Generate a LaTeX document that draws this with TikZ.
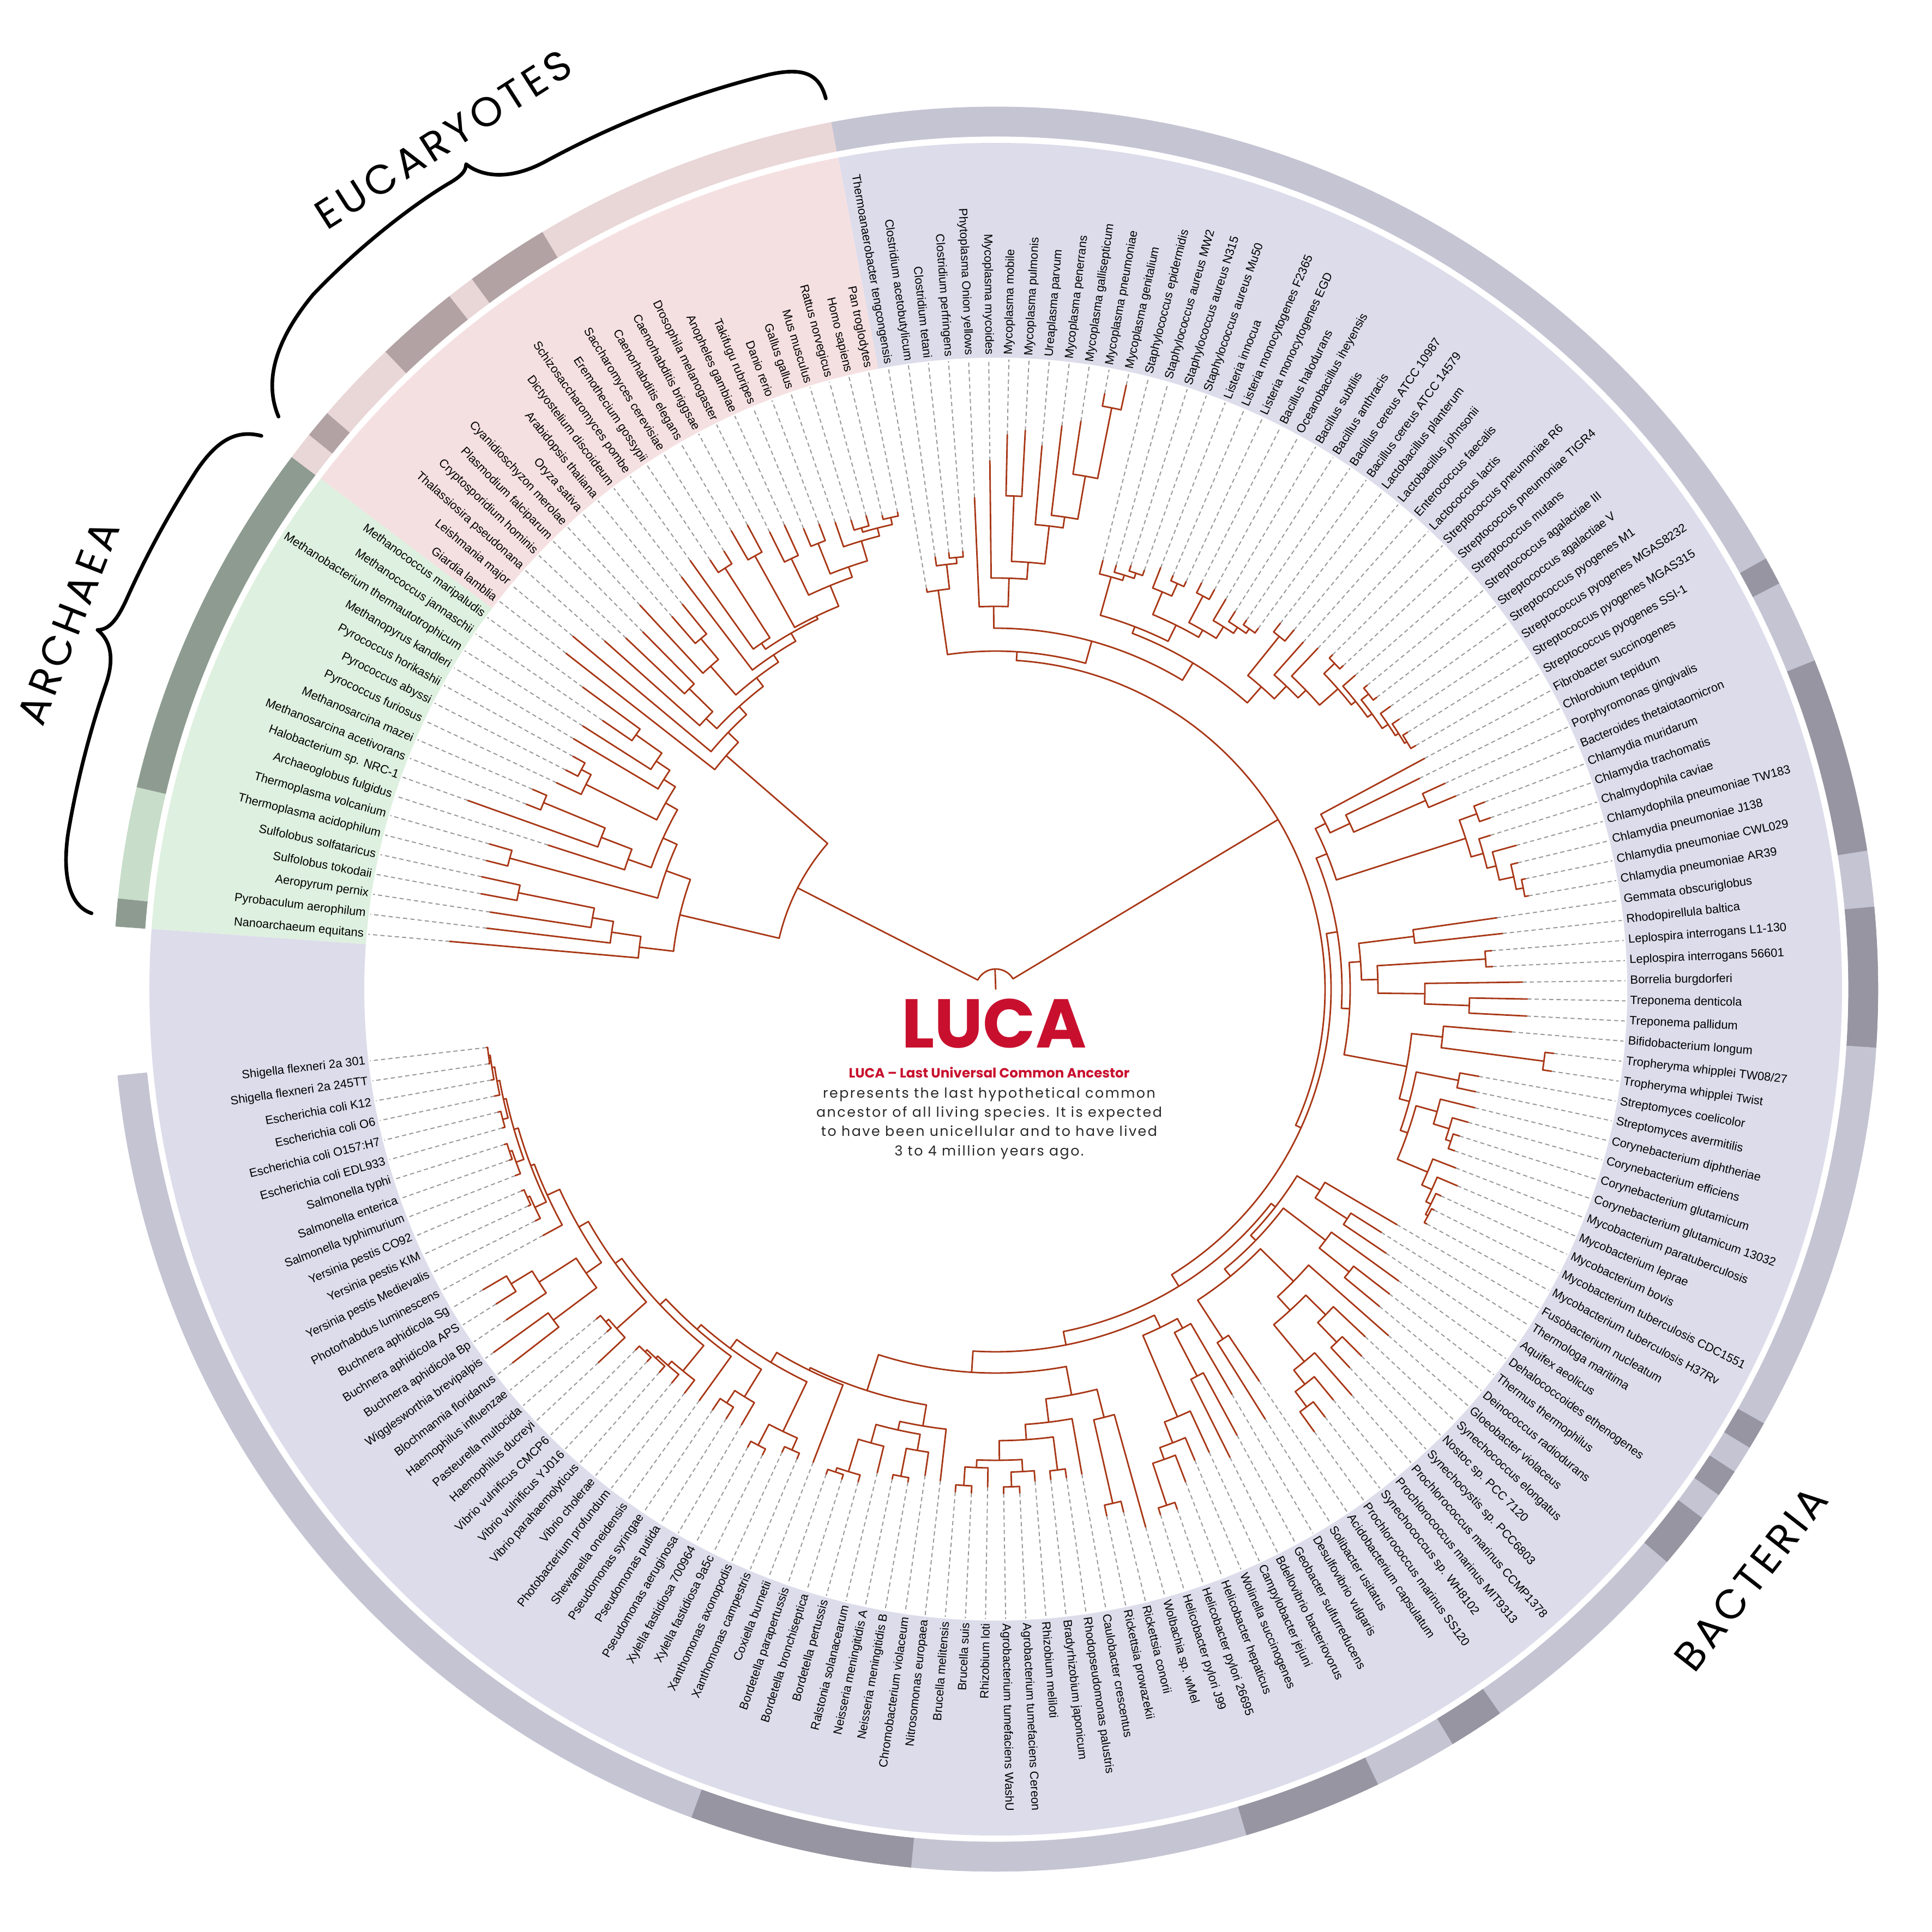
\documentclass[tikz,border=0pt]{standalone}
\usepackage{fontspec}
\setmainfont{Liberation Sans}
\newfontfamily\popfont{Poppins}
\newfontfamily\popdesc{Poppins}[LetterSpace=10]
\newfontfamily\popspaced{Poppins}[LetterSpace=10]
\definecolor{cBrn}{RGB}{168,55,22}
\definecolor{cDsh}{RGB}{150,150,150}
\definecolor{bgA}{RGB}{222,240,223}
\definecolor{bgE}{RGB}{245,224,225}
\definecolor{bgB}{RGB}{221,220,235}
\definecolor{rAl}{RGB}{200,221,202}
\definecolor{rAd}{RGB}{141,155,144}
\definecolor{rEl}{RGB}{233,214,215}
\definecolor{rEd}{RGB}{178,162,163}
\definecolor{rBl}{RGB}{197,196,211}
\definecolor{rBd}{RGB}{150,149,161}
\definecolor{lucared}{RGB}{200,16,46}
\definecolor{descgray}{RGB}{40,40,40}
\tikzset{
  br/.style={cBrn, line width=0.8pt, line cap=round},
  dline/.style={cDsh, line width=0.55pt, dash pattern=on 2.2pt off 1.6pt},
  lab/.style={font=\fontsize{6.23}{7}\selectfont, inner sep=0pt, text=black},
  biglab/.style={font=\popspaced\fontsize{21.5}{24}\selectfont, inner sep=0pt, text=black},
  desc/.style={font=\popdesc\fontsize{7.2}{8}\selectfont, text=descgray, inner sep=0pt, anchor=base},
  bracestyle/.style={black, line width=1.9pt, line cap=round, line join=round},
}
\newcommand\TLeaf[3]{%
  \pgfmathsetmacro\la{175-1.834*#1}%
  \expandafter\xdef\csname tAxL#1\endcsname{\la}%
  \coordinate (L#1) at (\la:#2/100);%
  \draw[dline] (L#1) -- (\la:11.55);%
  \ifdim\la pt>90pt \pgfmathsetmacro\lr{\la+180}\def\lanc{east}%
  \else\ifdim\la pt<-90pt \pgfmathsetmacro\lr{\la+180}\def\lanc{east}%
  \else \let\lr\la \def\lanc{west}\fi\fi
  \node[lab,rotate=\lr,anchor=\lanc] (N#1) at (\la:11.63) {#3};%
}
\newcommand\TClade[3]{%
  \gdef\tcmin{1000}\gdef\tcmax{-1000}%
  \foreach \c in {#3}{%
    \edef\ca{\csname tAx\c\endcsname}%
    \pgfmathparse{min(\tcmin,\ca)}\xdef\tcmin{\pgfmathresult}%
    \pgfmathparse{max(\tcmax,\ca)}\xdef\tcmax{\pgfmathresult}%
    \draw[br] (\ca:#2/100) -- (\c);%
  }%
  \pgfmathsetmacro\tcmid{(\tcmin+\tcmax)/2}%
  \expandafter\xdef\csname tAx#1\endcsname{\tcmid}%
  \draw[br] (\tcmin:#2/100) arc[start angle=\tcmin, end angle=\tcmax, radius=#2/100];%
  \coordinate (#1) at (\tcmid:#2/100);%
}
\newcommand\RSeg[3]{%
  \pgfmathsetmacro\ra{175.917-1.834*#1}%
  \pgfmathsetmacro\rb{175.917-1.834*(#2+1)}%
  \filldraw[#3, line width=0.2pt] (\ra:15.64) arc[start angle=\ra,end angle=\rb,radius=15.64] -- (\rb:16.18) arc[start angle=\rb,end angle=\ra,radius=16.18] -- cycle;%
}
\begin{document}
\begin{tikzpicture}[x=1cm,y=1cm]
\useasboundingbox (-18.26,-17.29) rectangle (17.17,18.14);
\fill[white] (-18.26,-17.29) rectangle (17.17,18.14);
% background sectors
\fill[bgB] (100.725:11.58) arc[start angle=100.725,end angle=-184.083,radius=11.58] -- (-184.083:15.52) arc[start angle=-184.083,end angle=100.725,radius=15.52] -- cycle;
\fill[bgE] (100.725:11.58) arc[start angle=100.725,end angle=142.905,radius=11.58] -- (142.905:15.52) arc[start angle=142.905,end angle=100.725,radius=15.52] -- cycle;
\fill[bgA] (142.905:11.58) arc[start angle=142.905,end angle=175.917,radius=11.58] -- (175.917:15.52) arc[start angle=175.917,end angle=142.905,radius=15.52] -- cycle;
% outer ring
\RSeg{0}{0}{rAd}\RSeg{1}{4}{rAl}\RSeg{5}{17}{rAd}
\RSeg{18}{18}{rEl}\RSeg{19}{19}{rEd}\RSeg{20}{22}{rEl}\RSeg{23}{25}{rEd}\RSeg{26}{26}{rEl}\RSeg{27}{29}{rEd}\RSeg{30}{40}{rEl}
\RSeg{41}{79}{rBl}\RSeg{80}{80}{rBd}\RSeg{81}{83}{rBl}\RSeg{84}{90}{rBd}\RSeg{91}{92}{rBl}\RSeg{93}{97}{rBd}\RSeg{98}{111}{rBl}
\RSeg{112}{112}{rBd}\RSeg{113}{113}{rBl}\RSeg{114}{114}{rBd}\RSeg{115}{115}{rBl}\RSeg{116}{117}{rBd}\RSeg{118}{125}{rBl}
\RSeg{126}{127}{rBd}\RSeg{128}{130}{rBl}\RSeg{131}{135}{rBd}\RSeg{136}{147}{rBl}\RSeg{148}{155}{rBd}\RSeg{156}{190}{rBl}
% leaves: archaea
\TLeaf{0}{1005}{Nanoarchaeum equitans}
\TLeaf{1}{940}{Pyrobaculum aerophilum}
\TLeaf{2}{938}{Aeropyrum pernix}
\TLeaf{3}{960}{Sulfolobus tokodaii}
\TLeaf{4}{965}{Sulfolobus solfataricus}
\TLeaf{5}{963}{Thermoplasma acidophilum}
\TLeaf{6}{966}{Thermoplasma volcanium}
\TLeaf{7}{862}{Archaeoglobus fulgidus}
\TLeaf{8}{1028}{Halobacterium sp. NRC-1}
\TLeaf{9}{925}{Methanosarcina acetivorans}
\TLeaf{10}{925}{Methanosarcina mazei}
\TLeaf{11}{890}{Pyrococcus furiosus}
\TLeaf{12}{885}{Pyrococcus abyssi}
\TLeaf{13}{885}{Pyrococcus horikashii}
\TLeaf{14}{900}{Methanopyrus kandleri}
\TLeaf{15}{898}{Methanobacterium thermautotrophicum}
\TLeaf{16}{873}{Methanococcus jannaschii}
\TLeaf{17}{938}{Methanococcus maripaludis}
% eukaryotes
\TLeaf{18}{1000}{Giardia lamblia}
\TLeaf{19}{1010}{Leishmania major}
\TLeaf{20}{960}{Thalassiosira pseudonana}
\TLeaf{21}{935}{Cryptosporidium hominis}
\TLeaf{22}{921}{Plasmodium falciparum}
\TLeaf{23}{960}{Cyanidioschyzon merolae}
\TLeaf{24}{905}{Oryza sativa}
\TLeaf{25}{910}{Arabidopsis thaliana}
\TLeaf{26}{950}{Dictyostelium discoideum}
\TLeaf{27}{965}{Schizosaccharomyces pombe}
\TLeaf{28}{945}{Eremothecium gossypii}
\TLeaf{29}{945}{Saccharomyces cerevisiae}
\TLeaf{30}{970}{Caenorhabditis elegans}
\TLeaf{31}{965}{Caenorhabditis briggsae}
\TLeaf{32}{935}{Drosophila melanogaster}
\TLeaf{33}{935}{Anopheles gambiae}
\TLeaf{34}{915}{Takifugu rubripes}
\TLeaf{35}{912}{Danio rerio}
\TLeaf{36}{905}{Gallus gallus}
\TLeaf{37}{900}{Mus musculus}
\TLeaf{38}{900}{Rattus norvegicus}
\TLeaf{39}{893}{Homo sapiens}
\TLeaf{40}{893}{Pan troglodytes}
% bacteria
\TLeaf{41}{745}{Thermoanaerobacter tengcongensis}
\TLeaf{42}{800}{Clostridium acetobutylicum}
\TLeaf{43}{805}{Clostridium tetani}
\TLeaf{44}{805}{Clostridium perfringens}
\TLeaf{45}{902}{Phytoplasma Onion yellows}
\TLeaf{46}{969}{Mycoplasma mycoides}
\TLeaf{47}{1017}{Mycoplasma mobile}
\TLeaf{48}{1026}{Mycoplasma pulmonis}
\TLeaf{49}{1000}{Ureaplasma parvum}
\TLeaf{50}{1040}{Mycoplasma penerrans}
\TLeaf{51}{1053}{Mycoplasma gallisepticum}
\TLeaf{52}{1110}{Mycoplasma pneumoniae}
\TLeaf{53}{1133}{Mycoplasma genitalium}
\TLeaf{54}{810}{Staphylococcus epidermidis}
\TLeaf{55}{808}{Staphylococcus aureus MW2}
\TLeaf{56}{815}{Staphylococcus aureus N315}
\TLeaf{57}{815}{Staphylococcus aureus Mu50}
\TLeaf{58}{830}{Listeria innocua}
\TLeaf{59}{825}{Listeria monocytogenes F2365}
\TLeaf{60}{825}{Listeria monocytogenes EGD}
\TLeaf{61}{835}{Bacillus halodurans}
\TLeaf{62}{835}{Oceanobacillus iheyensis}
\TLeaf{63}{830}{Bacillus subtilis}
\TLeaf{64}{820}{Bacillus anthracis}
\TLeaf{65}{818}{Bacillus cereus ATCC 10987}
\TLeaf{66}{818}{Bacillus cereus ATCC 14579}
\TLeaf{67}{850}{Lactobacillus planterum}
\TLeaf{68}{856}{Lactobacillus johnsonii}
\TLeaf{69}{850}{Enterococcus faecalis}
\TLeaf{70}{860}{Lactococcus lactis}
\TLeaf{71}{870}{Streptococcus pneumoniae R6}
\TLeaf{72}{870}{Streptococcus pneumoniae TIGR4}
\TLeaf{73}{875}{Streptococcus mutans}
\TLeaf{74}{880}{Streptococcus agalactiae III}
\TLeaf{75}{880}{Streptococcus agalactiae V}
\TLeaf{76}{890}{Streptococcus pyogenes M1}
\TLeaf{77}{890}{Streptococcus pyogenes MGAS8232}
\TLeaf{78}{890}{Streptococcus pyogenes MGAS315}
\TLeaf{79}{890}{Streptococcus pyogenes SSI-1}
\TLeaf{80}{893}{Fibrobacter succinogenes}
\TLeaf{81}{868}{Chlorobium tepidum}
\TLeaf{82}{906}{Porphyromonas gingivalis}
\TLeaf{83}{915}{Bacteroides thetaiotaomicron}
\TLeaf{84}{960}{Chlamydia muridarum}
\TLeaf{85}{960}{Chlamydia trachomatis}
\TLeaf{86}{950}{Chalmydophila caviae}
\TLeaf{87}{990}{Chlamydophila pneumoniae TW183}
\TLeaf{88}{985}{Chlamydia pneumoniae J138}
\TLeaf{89}{992}{Chlamydia pneumoniae CWL029}
\TLeaf{90}{992}{Chlamydia pneumoniae AR39}
\TLeaf{91}{928}{Gemmata obscuriglobus}
\TLeaf{92}{935}{Rhodopirellula baltica}
\TLeaf{93}{912}{Leplospira interrogans L1-130}
\TLeaf{94}{912}{Leplospira interrogans 56601}
\TLeaf{95}{966}{Borrelia burgdorferi}
\TLeaf{96}{975}{Treponema denticola}
\TLeaf{97}{975}{Treponema pallidum}
\TLeaf{98}{949}{Bifidobacterium longum}
\TLeaf{99}{1030}{Tropheryma whipplei TW08/27}
\TLeaf{100}{1030}{Tropheryma whipplei Twist}
\TLeaf{101}{900}{Streptomyces coelicolor}
\TLeaf{102}{900}{Streptomyces avermitilis}
\TLeaf{103}{905}{Corynebacterium diphtheriae}
\TLeaf{104}{900}{Corynebacterium efficiens}
\TLeaf{105}{892}{Corynebacterium glutamicum}
\TLeaf{106}{892}{Corynebacterium glutamicum 13032}
\TLeaf{107}{905}{Mycobacterium paratuberculosis}
\TLeaf{108}{920}{Mycobacterium leprae}
\TLeaf{109}{900}{Mycobacterium bovis}
\TLeaf{110}{900}{Mycobacterium tuberculosis CDC1551}
\TLeaf{111}{900}{Mycobacterium tuberculosis H37Rv}
\TLeaf{112}{853}{Fusobacterium nucleatum}
\TLeaf{113}{836}{Thermologa maritima}
\TLeaf{114}{864}{Aquifex aeolicus}
\TLeaf{115}{912}{Dehalococcoides ethenogenes}
\TLeaf{116}{913}{Thermus thermophilus}
\TLeaf{117}{913}{Deinococcus radiodurans}
\TLeaf{118}{960}{Gloeobacter violaceus}
\TLeaf{119}{930}{Synechococcus elongatus}
\TLeaf{120}{950}{Nostoc sp. PCC 7120}
\TLeaf{121}{950}{Synechocystis sp. PCC6803}
\TLeaf{122}{990}{Prochlorococcus marinus CCMP1378}
\TLeaf{123}{975}{Prochlorococcus marinus MIT9313}
\TLeaf{124}{990}{Synechococcus sp. WH8102}
\TLeaf{125}{1000}{Prochlorococcus marinus SS120}
\TLeaf{126}{866}{Acidobacterium capsulatum}
\TLeaf{127}{930}{Solibacter usitatus}
\TLeaf{128}{860}{Desulfovibrio vulgaris}
\TLeaf{129}{930}{Geobacter sulfurreducens}
\TLeaf{130}{960}{Bdellovibrio bacteriovorus}
\TLeaf{131}{935}{Campylobacter jejuni}
\TLeaf{132}{938}{Wolinella succinogenes}
\TLeaf{133}{968}{Helicobacter hepaticus}
\TLeaf{134}{1010}{Helicobacter pylori 26695}
\TLeaf{135}{1010}{Helicobacter pylori J99}
\TLeaf{136}{1024}{Wolbachia sp. wMel}
\TLeaf{137}{987}{Rickettsia conorii}
\TLeaf{138}{987}{Rickettsia prowazekii}
\TLeaf{139}{903}{Caulobacter crescentus}
\TLeaf{140}{905}{Rhodopseudomonas palustris}
\TLeaf{141}{905}{Bradyrhizobium japonicum}
\TLeaf{142}{905}{Rhizobium meliloti}
\TLeaf{143}{925}{Agrobacterium tumefaciens Cereon}
\TLeaf{144}{925}{Agrobacterium tumefaciens WashU}
\TLeaf{145}{913}{Rhizobium loti}
\TLeaf{146}{925}{Brucella suis}
\TLeaf{147}{925}{Brucella melitensis}
\TLeaf{148}{907}{Nitrosomonas europaea}
\TLeaf{149}{901}{Chromobacterium violaceum}
\TLeaf{150}{918}{Neisseria meningitidis B}
\TLeaf{151}{918}{Neisseria meningitidis A}
\TLeaf{152}{913}{Ralstonia solanacearum}
\TLeaf{153}{938}{Bordetella pertussis}
\TLeaf{154}{942}{Bordetella bronchiseptica}
\TLeaf{155}{942}{Bordetella parapertussis}
\TLeaf{156}{930}{Coxiella burnetii}
\TLeaf{157}{935}{Xanthomonas campestris}
\TLeaf{158}{935}{Xanthomonas axonopodis}
\TLeaf{159}{955}{Xylella fastidiosa 9a5c}
\TLeaf{160}{955}{Xylella fastidiosa 700964}
\TLeaf{161}{925}{Pseudomonas aeruginosa}
\TLeaf{162}{930}{Pseudomonas putida}
\TLeaf{163}{930}{Pseudomonas syringae}
\TLeaf{164}{930}{Shewanella oneidensis}
\TLeaf{165}{935}{Photobacterium profundum}
\TLeaf{166}{935}{Vibrio cholerae}
\TLeaf{167}{935}{Vibrio parahaemolyticus}
\TLeaf{168}{935}{Vibrio vulnificus YJ016}
\TLeaf{169}{935}{Vibrio vulnificus CMCP6}
\TLeaf{170}{1000}{Haemophilus ducreyi}
\TLeaf{171}{950}{Pasteurella multocida}
\TLeaf{172}{950}{Haemophilus influenzae}
\TLeaf{173}{1120}{Blochmannia floridanus}
\TLeaf{174}{1136}{Wigglesworthia brevipalpis}
\TLeaf{175}{1083}{Buchnera aphidicola Bp}
\TLeaf{176}{1083}{Buchnera aphidicola APS}
\TLeaf{177}{1090}{Buchnera aphidicola Sg}
\TLeaf{178}{945}{Photorhabdus luminescens}
\TLeaf{179}{945}{Yersinia pestis Medievalis}
\TLeaf{180}{945}{Yersinia pestis KIM}
\TLeaf{181}{945}{Yersinia pestis CO92}
\TLeaf{182}{945}{Salmonella typhimurium}
\TLeaf{183}{945}{Salmonella enterica}
\TLeaf{184}{945}{Salmonella typhi}
\TLeaf{185}{940}{Escherichia coli EDL933}
\TLeaf{186}{940}{Escherichia coli O157:H7}
\TLeaf{187}{940}{Escherichia coli O6}
\TLeaf{188}{940}{Escherichia coli K12}
\TLeaf{189}{940}{Shigella flexneri 2a 245TT}
\TLeaf{190}{940}{Shigella flexneri 2a 301}
% ---------- tree: archaea
\TClade{Sulf}{893}{L3,L4}
\TClade{AS}{751}{L2,Sulf}
\TClade{Cren}{712}{L1,AS}
\TClade{NC}{658}{L0,Cren}
\TClade{Tpl}{923}{L5,L6}
\TClade{Msar}{897}{L9,L10}
\TClade{HM}{775}{L8,Msar}
\TClade{Xa}{715}{L7,HM}
\TClade{PaPh}{860}{L12,L13}
\TClade{Pyro}{840}{L11,PaPh}
\TClade{Mcoc}{808}{L16,L17}
\TClade{MBa}{750}{L15,Mcoc}
\TClade{MP}{720}{L14,MBa}
\TClade{Bb}{695}{Pyro,MP}
\TClade{Rest}{670}{Xa,Bb}
\TClade{Eury}{642}{Tpl,Rest}
\TClade{Arch}{595}{NC,Eury}
% ---------- tree: eukaryotes
\TClade{HP}{886}{L39,L40}
\TClade{MR}{881}{L37,L38}
\TClade{Mam}{873}{MR,HP}
\TClade{Amn}{858}{L36,Mam}
\TClade{Fish}{880}{L34,L35}
\TClade{Vert}{820}{Fish,Amn}
\TClade{Arth}{874}{L32,L33}
\TClade{AV}{800}{Arth,Vert}
\TClade{Nem}{909}{L30,L31}
\TClade{Anim}{759}{Nem,AV}
\TClade{ES}{918}{L28,L29}
\TClade{Fung}{766}{L27,ES}
\TClade{Opis}{753}{Fung,Anim}
\TClade{DO}{736}{L26,Opis}
\TClade{OA}{840}{L24,L25}
\TClade{Pl}{790}{L23,OA}
\TClade{PDO}{720}{Pl,DO}
\TClade{Alv}{787}{L21,L22}
\TClade{TA}{727}{L20,Alv}
\TClade{Chr}{700}{TA,PDO}
\TClade{Lei}{680}{L19,Chr}
\TClade{Euk}{654}{L18,Lei}
\TClade{AE}{408}{Arch,Euk}
% ---------- tree: bacteria
\TClade{Ct}{795}{L43,L44}
\TClade{Ca}{784}{L42,Ct}
\TClade{Clo}{739}{L41,Ca}
\TClade{Mpg}{1087}{L52,L53}
\TClade{Mgpg}{955}{L51,Mpg}
\TClade{Mpe}{875}{L50,Mgpg}
\TClade{Mu}{855}{L49,Mpe}
\TClade{Mmp}{905}{L47,L48}
\TClade{Mmu}{785}{Mmp,Mu}
\TClade{Mmyc}{754}{L46,Mmu}
\TClade{Moll}{702}{L45,Mmyc}
\TClade{Sa3}{805}{L56,L57}
\TClade{Sa2}{795}{L55,Sa3}
\TClade{Sta}{785}{L54,Sa2}
\TClade{Lm}{815}{L59,L60}
\TClade{Lis}{790}{L58,Lm}
\TClade{BO}{815}{L61,L62}
\TClade{Bc}{808}{L65,L66}
\TClade{Ba}{798}{L64,Bc}
\TClade{Bs}{785}{L63,Ba}
\TClade{Bac}{760}{BO,Bs}
\TClade{LB}{745}{Lis,Bac}
\TClade{Bal}{712}{Sta,LB}
\TClade{Lac}{830}{L67,L68}
\TClade{Sp}{862}{L71,L72}
\TClade{Sag}{872}{L74,L75}
\TClade{Py3}{880}{L78,L79}
\TClade{Py2}{875}{L77,Py3}
\TClade{Py}{868}{L76,Py2}
\TClade{AgPy}{855}{Sag,Py}
\TClade{MAP}{845}{L73,AgPy}
\TClade{Str}{835}{Sp,MAP}
\TClade{LcS}{790}{L70,Str}
\TClade{ELS}{770}{L69,LcS}
\TClade{Lab}{738}{Lac,ELS}
\TClade{Bacl}{699}{Bal,Lab}
\TClade{Yf}{662}{Moll,Bacl}
\TClade{FX}{620}{Clo,Yf}
\TClade{PB}{861}{L82,L83}
\TClade{CB}{717}{L81,PB}
\TClade{FCB}{677}{L80,CB}
\TClade{C89}{985}{L89,L90}
\TClade{C88}{972}{L88,C89}
\TClade{C87}{945}{L87,C88}
\TClade{C86}{928}{L86,C87}
\TClade{C84}{939}{L84,L85}
\TClade{Chl}{905}{C84,C86}
\TClade{G1}{656}{FCB,Chl}
\TClade{Pla}{773}{L91,L92}
\TClade{Lep}{900}{L93,L94}
\TClade{Tre}{869}{L96,L97}
\TClade{BT}{787}{L95,Tre}
\TClade{Spi}{701}{Lep,BT}
\TClade{PS}{671}{Pla,Spi}
\TClade{Tro}{1014}{L99,L100}
\TClade{BiT}{824}{L98,Tro}
\TClade{Stm}{865}{L101,L102}
\TClade{Cg}{880}{L105,L106}
\TClade{Ce}{870}{L104,Cg}
\TClade{Cor}{840}{L103,Ce}
\TClade{Mt}{895}{L110,L111}
\TClade{Mb}{890}{L109,Mt}
\TClade{Ml}{880}{L108,Mb}
\TClade{Myc}{860}{L107,Ml}
\TClade{CM}{800}{Cor,Myc}
\TClade{SCM}{786}{Stm,CM}
\TClade{Act}{767}{BiT,SCM}
\TClade{PSA}{650}{PS,Act}
\TClade{Z}{635}{G1,PSA}
\TClade{TAq}{770}{L113,L114}
\TClade{FTA}{700}{L112,TAq}
\TClade{DT}{830}{L116,L117}
\TClade{CD}{760}{L115,DT}
\TClade{NS}{900}{L120,L121}
\TClade{ENS}{850}{L119,NS}
\TClade{P45}{955}{L124,L125}
\TClade{P3}{920}{L123,P45}
\TClade{Mar}{887}{L122,P3}
\TClade{CyI}{799}{ENS,Mar}
\TClade{Cya}{765}{L118,CyI}
\TClade{Aci}{765}{L126,L127}
\TClade{CyA}{680}{Cya,Aci}
\TClade{CCA}{663}{CD,CyA}
\TClade{FCCA}{650}{FTA,CCA}
\TClade{GB}{800}{L129,L130}
\TClade{Del}{710}{L128,GB}
\TClade{Hp}{997}{L134,L135}
\TClade{Hh}{916}{L133,Hp}
\TClade{Wo}{893}{L132,Hh}
\TClade{Eps}{852}{L131,Wo}
\TClade{DE}{690}{Del,Eps}
\TClade{Rk}{967}{L137,L138}
\TClade{Ric}{810}{L136,Rk}
\TClade{Br}{889}{L140,L141}
\TClade{Ag}{913}{L143,L144}
\TClade{Rm}{886}{L142,Ag}
\TClade{Bru}{912}{L146,L147}
\TClade{Rl}{878}{L145,Bru}
\TClade{Rz}{864}{Rm,Rl}
\TClade{BR}{828}{Br,Rz}
\TClade{Cau}{800}{L139,BR}
\TClade{Alp}{757}{Ric,Cau}
\TClade{Nm}{910}{L150,L151}
\TClade{Chv}{858}{L149,Nm}
\TClade{Bp}{933}{L154,L155}
\TClade{Bo}{925}{L153,Bp}
\TClade{Ral}{863}{L152,Bo}
\TClade{BX}{828}{Chv,Ral}
\TClade{Bet}{812}{L148,BX}
\TClade{Xc}{924}{L157,L158}
\TClade{Xf}{943}{L159,L160}
\TClade{Xan}{900}{Xc,Xf}
\TClade{Ps2}{905}{L162,L163}
\TClade{Pse}{878}{L161,Ps2}
\TClade{V4}{925}{L168,L169}
\TClade{V3}{920}{L167,V4}
\TClade{V2}{915}{L166,V3}
\TClade{Vib}{905}{L165,V2}
\TClade{Pa2}{940}{L171,L172}
\TClade{Pas}{933}{L170,Pa2}
\TClade{BW}{1013}{L173,L174}
\TClade{Bu2}{1040}{L176,L177}
\TClade{Buc}{995}{L175,Bu2}
\TClade{Endo}{914}{BW,Buc}
\TClade{Ye2}{940}{L180,L181}
\TClade{Yer}{935}{L179,Ye2}
\TClade{Sax}{940}{L183,L184}
\TClade{Sal}{935}{L182,Sax}
\TClade{E12}{935}{L185,L186}
\TClade{Sh}{938}{L189,L190}
\TClade{E3}{935}{L188,Sh}
\TClade{E2}{930}{L187,E3}
\TClade{Eco}{925}{E12,E2}
\TClade{SE}{920}{Sal,Eco}
\TClade{YSE}{912}{Yer,SE}
\TClade{Fre}{905}{L178,YSE}
\TClade{Ent}{880}{Endo,Fre}
\TClade{PE}{860}{Pas,Ent}
\TClade{VPE}{845}{Vib,PE}
\TClade{SVPE}{830}{L164,VPE}
\TClade{PsS}{819}{Pse,SVPE}
\TClade{XPs}{799}{Xan,PsS}
\TClade{Gam}{778}{L156,XPs}
\TClade{BG}{773}{Bet,Gam}
\TClade{ABG}{704}{Alp,BG}
\TClade{Pro}{665}{DE,ABG}
\TClade{W}{640}{FCCA,Pro}
\TClade{X}{615}{Z,W}
\TClade{Bact}{604}{FX,X}
\TClade{Root}{37}{AE,Bact}
\coordinate (ctr) at (0,0);
\draw[br] (ctr) -- (Root);
% ---------- LUCA text
\node[font=\popfont\bfseries\fontsize{36}{36}\selectfont, text=lucared, inner sep=0pt, anchor=base] (luca) at (-0.03,-1.08) {LUCA};
\node[font=\popfont\bfseries\fontsize{7}{8}\selectfont, text=lucared, inner sep=0pt, anchor=base] (lsub) at (-0.12,-1.63) {LUCA – Last Universal Common Ancestor};
\node[desc] (ld1) at (-0.12,-2.00) {represents the last hypothetical common};
\node[desc] (ld2) at (-0.12,-2.35) {ancestor of all living species. It is expected};
\node[desc] (ld3) at (-0.12,-2.70) {to have been unicellular and to have lived};
\node[desc] (ld4) at (-0.12,-3.06) {3 to 4 million years ago.};
% ---------- domain labels and braces
\node[biglab, rotate=52] (tbac) at (13.85,-10.81) {BACTERIA};
\node[biglab, rotate=68.7] (tarc) at (-17.01,6.72) {ARCHAEA};
\node[biglab, rotate=32.5] (teuc) at (-10.13,15.58) {EUCARYOTES};
\draw[bracestyle] (143.0:16.86) .. controls (143.6:17.30) and (144.8:17.47) .. (147:17.47)
  arc[start angle=147,end angle=155.6,radius=17.47]
  .. controls (157.0:17.47) and (157.9:17.52) .. (158.2:17.74)
  .. controls (158.5:17.45) and (159.4:17.25) .. (161.2:17.25)
  arc[start angle=161.2,end angle=170.5,radius=17.25]
  .. controls (173.3:17.25) and (174.9:17.02) .. (175.2:16.64);
\draw[bracestyle] (141.4:16.83) .. controls (140.3:17.45) and (138.0:17.78) .. (134.5:17.86)
  .. controls (131:17.93) and (127:17.93) .. (124.2:17.86)
  .. controls (123.3:17.84) and (122.9:17.88) .. (122.7:17.98)
  .. controls (122.4:17.70) and (121.3:17.30) .. (118.5:17.28)
  arc[start angle=118.5,end angle=104,radius=17.28]
  .. controls (101.8:17.28) and (100.9:17.10) .. (100.8:16.63);
\end{tikzpicture}
\end{document}
